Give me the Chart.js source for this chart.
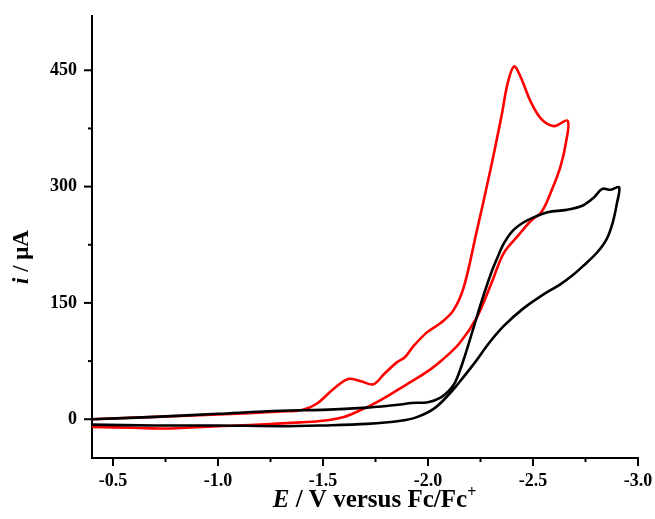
<!DOCTYPE html>
<html>
<head>
<meta charset="utf-8">
<script src="https://cdn.jsdelivr.net/npm/chart.js@4.4.1/dist/chart.umd.min.js"></script>
<style>
  html, body { margin: 0; padding: 0; background: #fff; overflow: hidden; }
  canvas { display: block; }
</style>
</head>
<body>
<canvas id="cvChart" width="655" height="519"></canvas>
<script>
// Values (E in V vs Fc/Fc+, i in uA)

// red trace: forward scan to -2.665 V, then back
const redPotential = [
  -0.40, -0.70, -1.00, -1.30, -1.40, -1.47, -1.55, -1.62, -1.68, -1.74, -1.79, -1.85, -1.89, -1.93, -1.995,
  -2.06, -2.12, -2.17, -2.23, -2.30, -2.35, -2.38, -2.41, -2.44, -2.49, -2.54, -2.60, -2.665,
  -2.657, -2.63, -2.59, -2.54, -2.49, -2.43, -2.36, -2.30, -2.23, -2.15, -2.07, -2.01, -1.93, -1.85,
  -1.77, -1.69, -1.60, -1.50, -1.39, -1.20, -1.00, -0.85, -0.74, -0.60, -0.40
];
const redCurrent = [
  0, 3, 6, 10, 12, 20, 39, 52, 49, 45, 58, 73, 80, 94, 112,
  124, 140, 170, 240, 325, 391, 434, 455, 442, 409, 387, 378, 385,
  357, 325, 296, 267, 256, 237, 214, 174, 130, 98, 77, 64, 50, 37,
  24, 13, 3, -2, -4, -7, -9, -11, -12, -11, -10
];

// black trace: forward scan to -2.91 V, then back
const blackPotential = [
  -0.40, -0.70, -1.00, -1.30, -1.50, -1.71, -1.87, -1.92, -2.00, -2.06, -2.10, -2.13, -2.17, -2.21,
  -2.26, -2.30, -2.33, -2.36, -2.40, -2.45, -2.50, -2.57, -2.66, -2.74, -2.79, -2.83, -2.87, -2.91,
  -2.90, -2.88, -2.85, -2.805, -2.74, -2.69, -2.63, -2.55, -2.45, -2.36, -2.29, -2.22, -2.15, -2.10,
  -2.03, -1.95, -1.87, -1.71, -1.50, -1.30, -1.00, -0.70, -0.40
];
const blackCurrent = [
  0, 3, 7, 11, 12, 15, 19, 21, 22, 28, 37, 48, 77, 112,
  156, 188, 208, 226, 242, 253, 260, 267, 270, 276, 286, 297, 296, 299,
  279, 254, 232, 215, 198, 186, 174, 161, 142, 120, 98, 72, 48, 32,
  14, 3, -2, -6, -8, -9, -8, -8, -7
];

// axis ranges and tick labels
const xMin = -3.0, xMax = -0.4;
const yMin = -50, yMax = 520;
const xTickStep = 0.25;
const yTickStep = 75;
const yTickLabels = [0, 150, 300, 450];

const toPoints = (xs, ys) => xs.map((x, i) => ({ x: x, y: ys[i] }));

const fontFamily = "'Liberation Serif', 'Times New Roman', serif";

// drop the extra room Chart.js keeps for the outer tick labels
const noEdgePadding = scale => {
  scale.paddingLeft = 0;
  scale.paddingRight = 0;
  scale.paddingTop = 0;
  scale.paddingBottom = 0;
};

// tick marks (long for labelled ones) and the mixed-style axis titles
const axisDecor = {
  id: 'axisDecor',
  afterDraw(chart) {
    const { ctx, chartArea, scales } = chart;
    const xs = scales.x, ys = scales.y;
    ctx.save();
    ctx.strokeStyle = '#000';
    ctx.lineWidth = 2;

    xs.ticks.forEach(t => {
      const px = xs.getPixelForValue(t.value);
      const major = Math.abs(t.value * 2 - Math.round(t.value * 2)) < 1e-6;
      const len = major ? 8 : 4;
      ctx.beginPath();
      ctx.moveTo(px, chartArea.bottom);
      ctx.lineTo(px, chartArea.bottom + len);
      ctx.stroke();
    });

    ys.ticks.forEach(t => {
      const py = ys.getPixelForValue(t.value);
      const major = yTickLabels.includes(t.value);
      const len = major ? 8 : 4;
      ctx.beginPath();
      ctx.moveTo(chartArea.left - len, py);
      ctx.lineTo(chartArea.left, py);
      ctx.stroke();
    });

    // x title: E / V versus Fc/Fc+
    ctx.fillStyle = '#000';
    ctx.textBaseline = 'alphabetic';
    const size = 25;
    const fItalic = `italic bold ${size}px ${fontFamily}`;
    const fBold = `bold ${size}px ${fontFamily}`;
    const fSup = `bold ${Math.round(size * 0.62)}px ${fontFamily}`;
    const parts = [
      { text: 'E', font: fItalic, dy: 0 },
      { text: ' / V versus Fc/Fc', font: fBold, dy: 0 },
      { text: '+', font: fSup, dy: -size * 0.42 }
    ];
    let total = 0;
    parts.forEach(p => { ctx.font = p.font; p.w = ctx.measureText(p.text).width; total += p.w; });
    let cx = 374.5 - total / 2;
    const baseY = 507;
    parts.forEach(p => {
      ctx.font = p.font;
      ctx.fillText(p.text, cx, baseY + p.dy);
      cx += p.w;
    });

    // y title: i / uA
    const ySize = 23;
    const yParts = [
      { text: 'i', font: `italic bold ${ySize}px ${fontFamily}` },
      { text: ' / μA', font: `bold ${ySize}px ${fontFamily}` }
    ];
    let ytotal = 0;
    yParts.forEach(p => { ctx.font = p.font; p.w = ctx.measureText(p.text).width; ytotal += p.w; });
    ctx.translate(28, 257);
    ctx.rotate(-Math.PI / 2);
    let cy = -ytotal / 2;
    yParts.forEach(p => {
      ctx.font = p.font;
      ctx.fillText(p.text, cy, 0);
      cy += p.w;
    });
    ctx.restore();
  }
};

const data = {
  datasets: [
    {
      label: 'black',
      data: toPoints(blackPotential, blackCurrent),
      borderColor: '#000000',
      borderWidth: 2.6,
      showLine: true,
      pointRadius: 0,
      tension: 0.35
    },
    {
      label: 'red',
      data: toPoints(redPotential, redCurrent),
      borderColor: '#ff0000',
      borderWidth: 2.6,
      showLine: true,
      pointRadius: 0,
      tension: 0.35
    }
  ]
};

new Chart(document.getElementById('cvChart'), {
  type: 'scatter',
  data: data,
  options: {
    responsive: false,
    animation: false,
    maintainAspectRatio: false,
    layout: { padding: { left: 0, top: 16, right: 17, bottom: 0 } },
    plugins: {
      legend: { display: false },
      tooltip: { enabled: false }
    },
    scales: {
      x: {
        type: 'linear',
        reverse: true,
        min: xMin,
        max: xMax,
        grid: { display: false, drawTicks: false },
        border: { display: true, color: '#000', width: 2 },
        ticks: {
          stepSize: xTickStep,
          includeBounds: false,
          autoSkip: false,
          maxRotation: 0,
          padding: 13,
          color: '#000',
          font: { family: fontFamily, size: 18, weight: 'bold' },
          callback: v => Math.abs(v * 2 - Math.round(v * 2)) < 1e-6 ? v.toFixed(1) : ''
        },
        afterFit: scale => { scale.height = 61; noEdgePadding(scale); }
      },
      y: {
        type: 'linear',
        min: yMin,
        max: yMax,
        grid: { display: false, drawTicks: false },
        border: { display: true, color: '#000', width: 2 },
        ticks: {
          stepSize: yTickStep,
          includeBounds: false,
          autoSkip: false,
          padding: 15,
          color: '#000',
          font: { family: fontFamily, size: 18, weight: 'bold' },
          callback: v => yTickLabels.includes(v) ? String(v) : ''
        },
        afterFit: scale => { scale.width = 92; noEdgePadding(scale); }
      }
    }
  },
  plugins: [axisDecor]
});
</script>
</body>
</html>
